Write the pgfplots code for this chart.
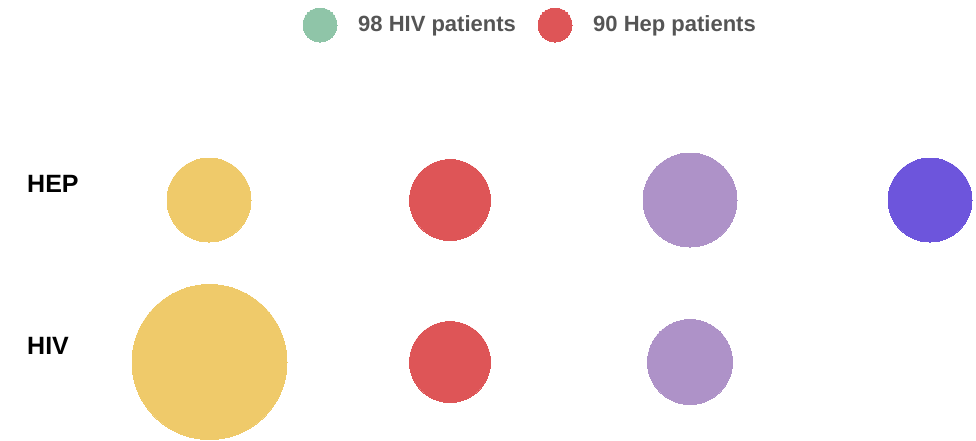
\documentclass[border=0pt]{standalone}
\usepackage{pgfplots}
\pgfplotsset{compat=1.18}
\usepackage{fontspec}
\setmainfont{Liberation Sans}
\definecolor{cyel}{HTML}{EFCA6A}
\definecolor{cred}{HTML}{DE5557}
\definecolor{cpur}{HTML}{AE92C8}
\definecolor{cblu}{HTML}{6D55DC}
\definecolor{cgrn}{HTML}{8FC5A8}
\definecolor{ctxt}{HTML}{555555}
\pgfplotsset{
  bub/.style 2 args={only marks, mark=*, mark size=#2pt, color=#1,
    mark options={draw=#1, fill=#1, line width=0pt}}
}
\begin{document}
\begin{tikzpicture}
\begin{axis}[
  x=1pt, y=1pt, y dir=reverse,
  xmin=0, xmax=976, ymin=0, ymax=440,
  hide axis, clip=false, scale only axis,
]
\path[use as bounding box] (axis cs:0,0) rectangle (axis cs:976,440);
% HEP row
\addplot[bub={cyel}{42}]   coordinates {(209,200)};
\addplot[bub={cred}{40.5}] coordinates {(450,200)};
\addplot[bub={cpur}{47}]   coordinates {(690,200)};
\addplot[bub={cblu}{42}]   coordinates {(930,200)};
% HIV row
\addplot[bub={cyel}{77.5}] coordinates {(209.5,362)};
\addplot[bub={cred}{40.5}] coordinates {(450,362)};
\addplot[bub={cpur}{42.5}] coordinates {(690,362)};
% legend markers
\addplot[bub={cgrn}{17}] coordinates {(320,25)};
\addplot[bub={cred}{17}] coordinates {(555,25)};
\node[anchor=west, inner sep=0pt, text=ctxt, font=\bfseries\fontsize{22}{26}\selectfont] at (axis cs:358,26) {98 HIV patients};
\node[anchor=west, inner sep=0pt, text=ctxt, font=\bfseries\fontsize{22}{26}\selectfont] at (axis cs:593,26) {90 Hep patients};
\node[anchor=west, inner sep=0pt, font=\bfseries\fontsize{25}{30}\selectfont] at (axis cs:27,184) {HEP};
\node[anchor=west, inner sep=0pt, font=\bfseries\fontsize{25}{30}\selectfont] at (axis cs:27,346) {HIV};
\end{axis}
\end{tikzpicture}
\end{document}
